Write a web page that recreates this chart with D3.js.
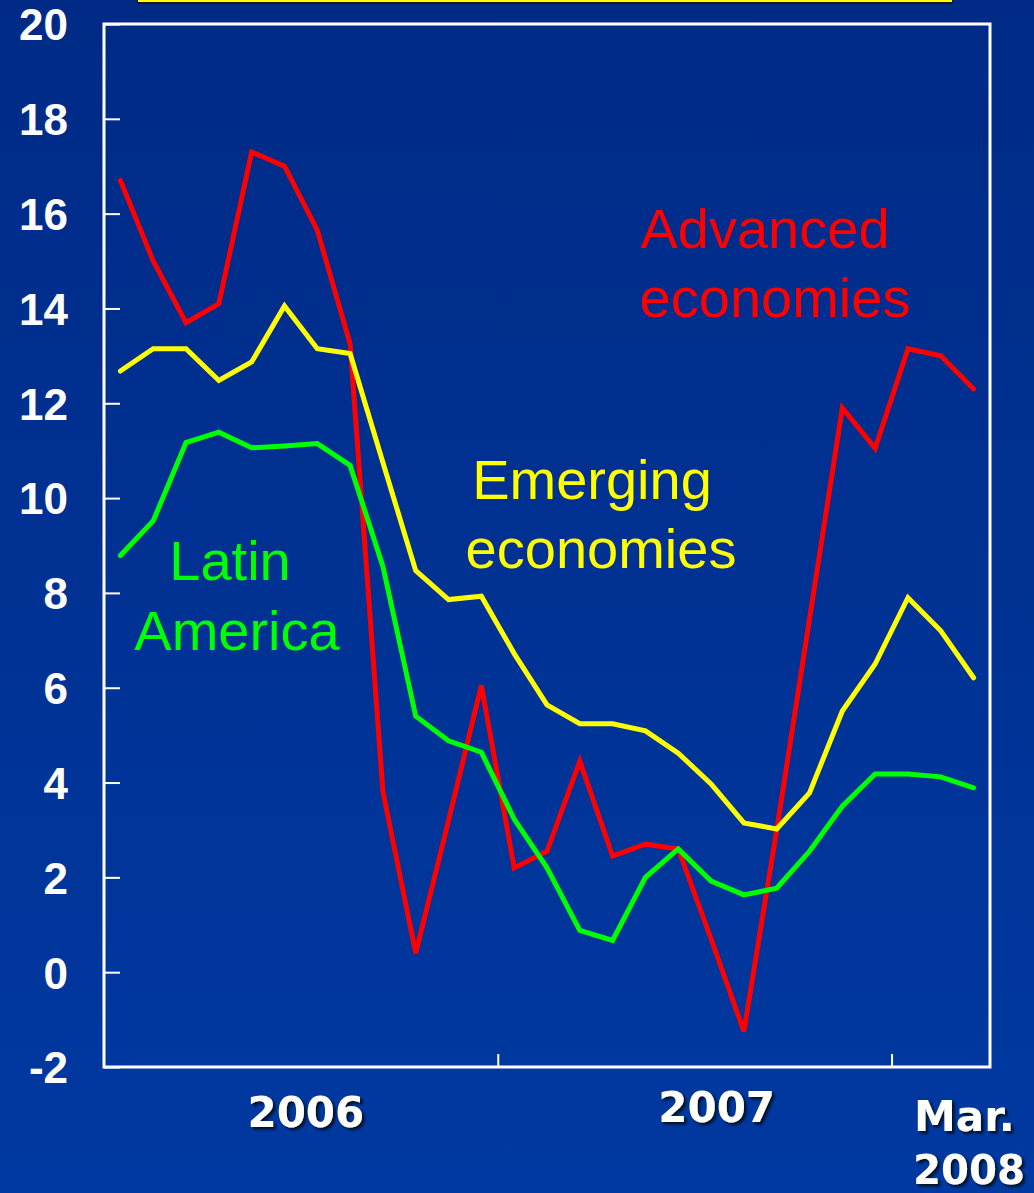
<!DOCTYPE html>
<html>
<head>
<meta charset="utf-8">
<script src="https://cdn.jsdelivr.net/npm/d3@7"></script>
<style>
  html, body { margin: 0; padding: 0; background: #00308f; }
  svg { display: block; }
</style>
</head>
<body>
<svg id="chart" width="1034" height="1193"></svg>
<script>
// Monthly observations, January 2006 through March 2008
const months = [
  "Jan 2006","Feb 2006","Mar 2006","Apr 2006","May 2006","Jun 2006",
  "Jul 2006","Aug 2006","Sep 2006","Oct 2006","Nov 2006","Dec 2006",
  "Jan 2007","Feb 2007","Mar 2007","Apr 2007","May 2007","Jun 2007",
  "Jul 2007","Aug 2007","Sep 2007","Oct 2007","Nov 2007","Dec 2007",
  "Jan 2008","Feb 2008","Mar 2008"
];

const advanced = [16.7, 15.0, 13.7, 14.1, 17.3, 17.0, 15.65, 13.25, 3.8, 0.4,
  3.2, 6.05, 2.2, 2.55, 4.45, 2.45, 2.7, 2.6, 0.7, -1.25, 3.0, 7.45, 11.9,
  11.05, 13.15, 13.0, 12.3];

const emerging = [12.68, 13.15, 13.15, 12.48, 12.87, 14.05, 13.15, 13.05, 10.75,
  8.47, 7.86, 7.93, 6.72, 5.64, 5.24, 5.24, 5.09, 4.62, 3.97, 3.15, 3.02, 3.78,
  5.51, 6.5, 7.9, 7.2, 6.21];

const latin = [8.79, 9.52, 11.17, 11.39, 11.06, 11.1, 11.15, 10.69, 8.56, 5.4,
  4.88, 4.64, 3.23, 2.2, 0.88, 0.67, 2.0, 2.6, 1.92, 1.63, 1.77, 2.55, 3.5,
  4.18, 4.18, 4.12, 3.89];

const yTicks = [-2, 0, 2, 4, 6, 8, 10, 12, 14, 16, 18, 20];
const yTickLabels = ["-2", "0", "2", "4", "6", "8", "10", "12", "14", "16", "18", "20"];
const yearTicks = [12, 24];              // month boundaries between years
const yearLabels = ["2006", "2007"];

const svg = d3.select("#chart");

// Background gradient
const defs = svg.append("defs");
const grad = defs.append("linearGradient")
  .attr("id", "bg").attr("x1", 0).attr("y1", 0).attr("x2", 0).attr("y2", 1);
grad.append("stop").attr("offset", "0%").attr("stop-color", "#002a86");
grad.append("stop").attr("offset", "100%").attr("stop-color", "#0039a1");
svg.append("rect").attr("width", 1034).attr("height", 1193).attr("fill", "url(#bg)");

// Drop shadow for the year labels
const shadow = defs.append("filter").attr("id", "shadow")
  .attr("x", "-20%").attr("y", "-20%").attr("width", "140%").attr("height", "140%");
shadow.append("feDropShadow").attr("dx", 2.5).attr("dy", 2.5)
  .attr("stdDeviation", 0.8).attr("flood-color", "#000814").attr("flood-opacity", 0.9);

// Title frame peeking in at the top edge
svg.append("rect").attr("x", 139).attr("y", -30).attr("width", 812).attr("height", 32)
  .attr("fill", "none").attr("stroke", "#1a1a1a").attr("stroke-width", 4);
svg.append("rect").attr("x", 139).attr("y", -30).attr("width", 812).attr("height", 31)
  .attr("fill", "none").attr("stroke", "#ffff00").attr("stroke-width", 2);

const plotLeft = 104, plotRight = 990, plotTop = 24, plotBottom = 1067;

const x = d3.scaleLinear().domain([0, months.length]).range([plotLeft, plotRight]);
const y = d3.scaleLinear().domain([-2, 20]).range([plotBottom, plotTop]);

// Plot frame
svg.append("rect").attr("x", plotLeft).attr("y", plotTop)
  .attr("width", plotRight - plotLeft).attr("height", plotBottom - plotTop)
  .attr("fill", "none").attr("stroke", "#ffffff").attr("stroke-width", 3);

// Y axis: inward ticks, bold labels on the left
const yAxis = d3.axisLeft(y).tickValues(yTicks).tickSize(-16).tickPadding(36)
  .tickFormat((d, i) => yTickLabels[i]);
const gy = svg.append("g").attr("transform", `translate(${plotLeft},0)`).call(yAxis);
gy.select(".domain").remove();
gy.selectAll(".tick line").attr("stroke", "#ffffff").attr("stroke-width", 2);
gy.selectAll(".tick text")
  .attr("fill", "#ffffff")
  .attr("font-family", "'Liberation Sans', Arial, sans-serif")
  .attr("font-weight", "bold")
  .attr("font-size", 44)
  .attr("dy", "0.36em");

// X axis: year boundary ticks pointing up
const xAxis = d3.axisBottom(x).tickValues(yearTicks).tickSize(-13).tickFormat("");
const gx = svg.append("g").attr("transform", `translate(0,${plotBottom})`).call(xAxis);
gx.select(".domain").remove();
gx.selectAll(".tick line").attr("stroke", "#ffffff").attr("stroke-width", 2);

// Year labels
const yearFont = "'DejaVu Sans', Verdana, sans-serif";
const yearText = svg.append("g").attr("filter", "url(#shadow)")
  .attr("fill", "#ffffff").attr("font-family", yearFont)
  .attr("font-weight", "bold").attr("font-size", 42);
yearText.selectAll("text.year").data(yearLabels).join("text")
  .attr("class", "year")
  .attr("x", (d, i) => i === 0 ? (x(0) + x(12)) / 2 + 5 : (x(12) + x(24)) / 2 + 22)
  .attr("y", (d, i) => i === 0 ? 1127 : 1122)
  .attr("text-anchor", "middle")
  .text(d => d);
yearText.append("text").attr("x", 914).attr("y", 1131).text("Mar.");
yearText.append("text").attr("x", 913).attr("y", 1184)
  .attr("font-size", 40)
  .attr("textLength", 112).attr("lengthAdjust", "spacingAndGlyphs").text("2008");

// Series lines
const line = d3.line()
  .x((d, i) => x(i + 0.5))
  .y(d => y(d));

const series = [
  { values: advanced, color: "#ff0000" },
  { values: emerging, color: "#ffff00" },
  { values: latin, color: "#00ff00" }
];
svg.append("g").selectAll("path").data(series).join("path")
  .attr("d", d => line(d.values))
  .attr("fill", "none")
  .attr("stroke", d => d.color)
  .attr("stroke-width", 5)
  .attr("stroke-linejoin", "miter")
  .attr("stroke-linecap", "round");

// Series labels
const labelFont = "'Liberation Sans', Arial, sans-serif";
function label(lines, cx, baselines, color) {
  const g = svg.append("g").attr("fill", color)
    .attr("font-family", labelFont).attr("font-size", 56)
    .attr("text-anchor", "middle");
  lines.forEach((t, i) => {
    g.append("text").attr("x", cx[i]).attr("y", baselines[i]).text(t);
  });
}
label(["Advanced", "economies"], [765, 775], [248, 317], "#ff0000");
label(["Emerging", "economies"], [592, 601], [499, 568], "#ffff00");
label(["Latin", "America"], [230, 237], [580, 650], "#00ff00");
</script>
</body>
</html>
